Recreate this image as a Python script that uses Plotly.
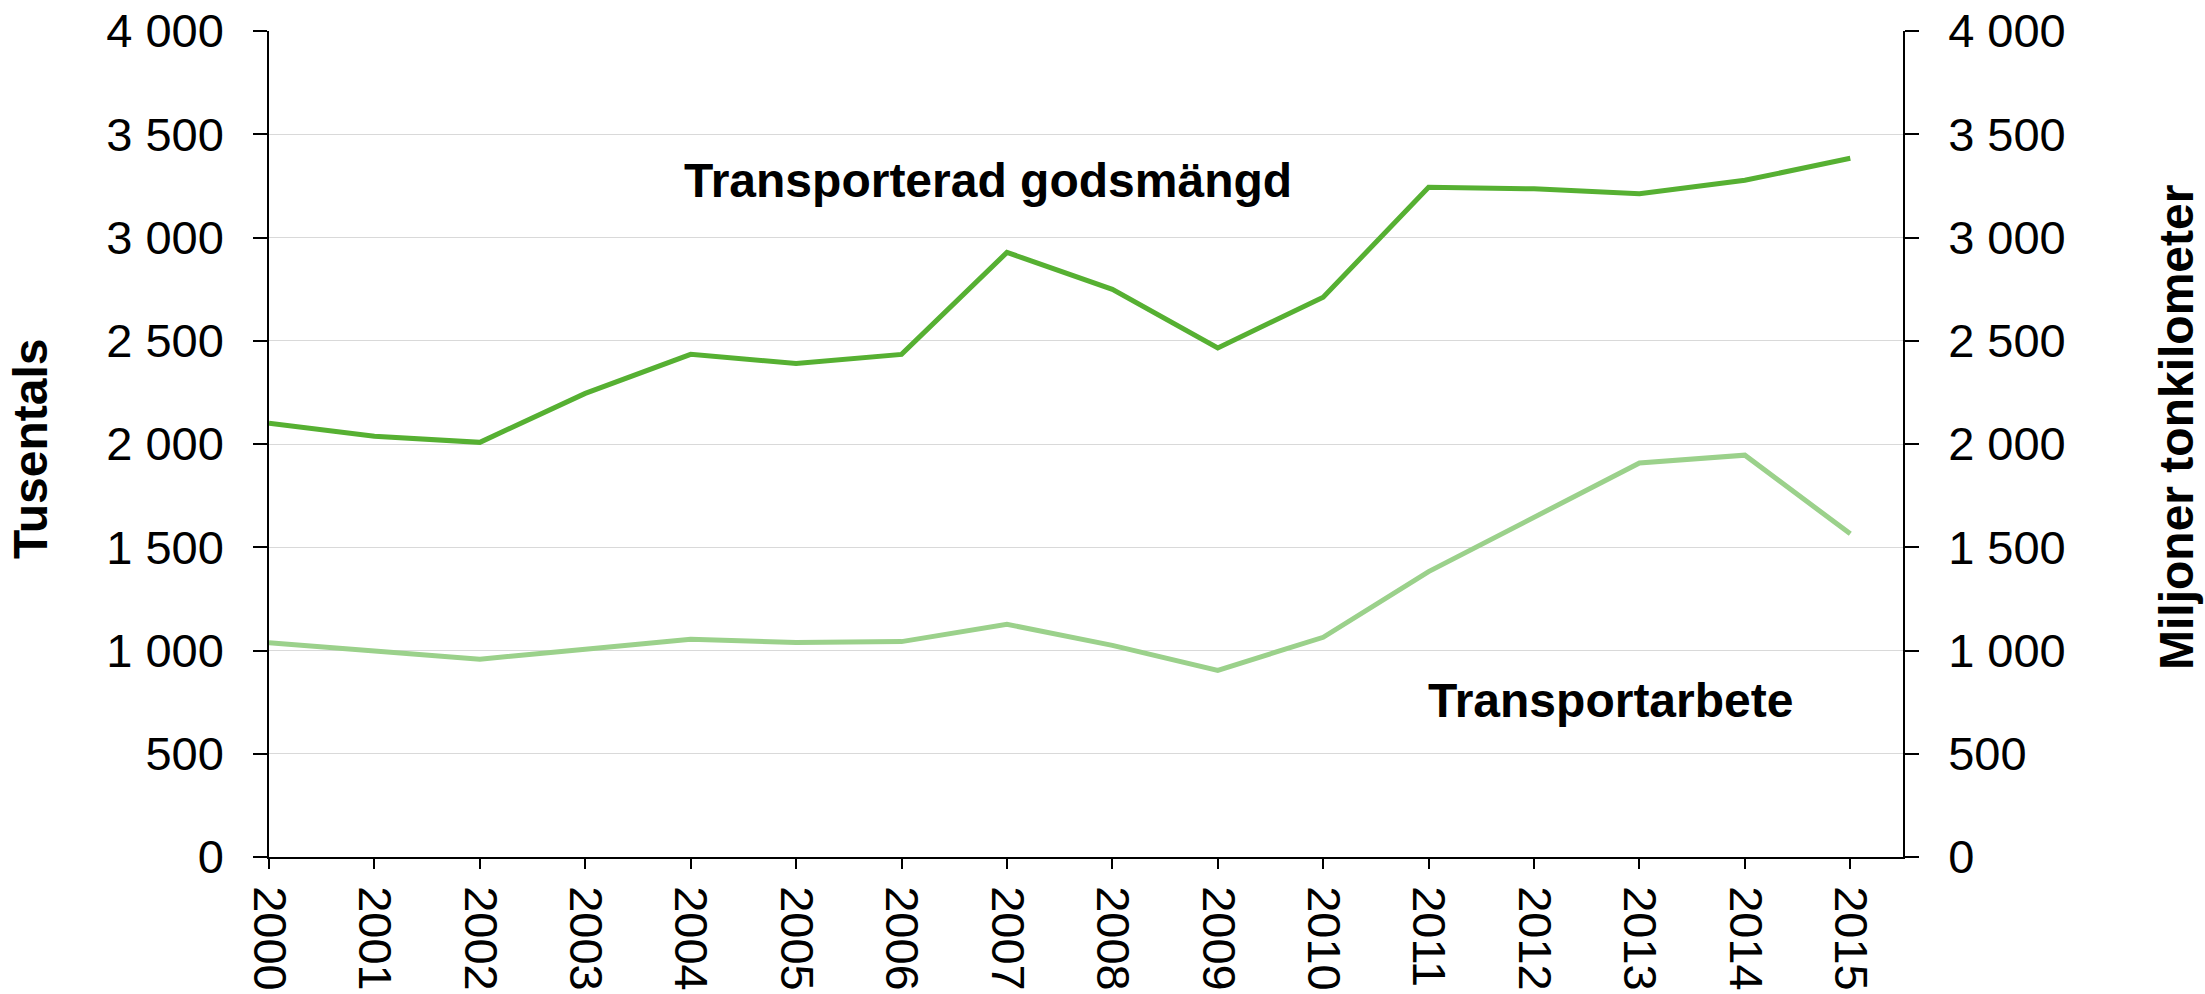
import plotly.graph_objects as go

years = list(range(2000, 2016))
godsmangd = [2100, 2038, 2008, 2245, 2434, 2390, 2434, 2928, 2749, 2465, 2711, 3243, 3236, 3212, 3277, 3384]
transportarbete = [1037, 997, 958, 1006, 1054, 1039, 1043, 1127, 1025, 904, 1064, 1382, 1645, 1908, 1946, 1565]
y_tickvals = [0, 500, 1000, 1500, 2000, 2500, 3000, 3500, 4000]
y_ticktext = ["0", "500", "1 000", "1 500", "2 000", "2 500", "3 000", "3 500", "4 000"]
x_ticktext = [str(y) for y in years]

DARK = "#56B032"
LIGHT = "#9BD18B"
FONT = "Liberation Sans, Arial, sans-serif"

fig = go.Figure()
fig.add_trace(go.Scatter(x=years, y=godsmangd, mode="lines",
                         line=dict(color=DARK, width=5), name="Transporterad godsmängd",
                         yaxis="y"))
fig.add_trace(go.Scatter(x=years, y=transportarbete, mode="lines",
                         line=dict(color=LIGHT, width=5), name="Transportarbete",
                         yaxis="y2"))

W, H = 2205, 994
L, T = 269, 31
R = W - 1903
B = H - 857

common_y = dict(range=[0, 4000], tickvals=y_tickvals, ticktext=y_ticktext, automargin=False,
                ticks="outside", ticklen=14, tickwidth=1.5, tickcolor="black",
                showline=True, linecolor="black", linewidth=1.5, zeroline=False,
                tickfont=dict(size=47), ticklabelstandoff=20, ticklabeloverflow="allow")

fig.update_layout(
    width=W, height=H,
    margin=dict(l=L, r=R, t=T, b=B, pad=0, autoexpand=False),
    paper_bgcolor="white", plot_bgcolor="white",
    showlegend=False,
    font=dict(family=FONT, size=47, color="black"),
    xaxis=dict(range=[2000, 2015.5], tickvals=years, ticktext=x_ticktext, automargin=False,
               tickangle=90, ticks="outside", ticklen=10, tickwidth=1.5, tickcolor="black",
               showline=True, linecolor="black", linewidth=1.5, showgrid=False,
               zeroline=False, tickfont=dict(size=47), ticklabelstandoff=8,
               ticklabeloverflow="allow"),
    yaxis=dict(**common_y, showgrid=True, gridcolor="#D9D9D9", gridwidth=1.2),
    yaxis2=dict(**common_y, overlaying="y", side="right", anchor="x", showgrid=False),
)

fig.add_annotation(x=2006.82, y=3274, xref="x", yref="y", text="<b>Transporterad godsmängd</b>",
                   showarrow=False, font=dict(size=48, family=FONT), xanchor="center", yanchor="middle")
fig.add_annotation(x=2012.73, y=759, xref="x", yref="y", text="<b>Transportarbete</b>",
                   showarrow=False, font=dict(size=48, family=FONT), xanchor="center", yanchor="middle")

pw = W - L - R
ph = H - T - B
# axis titles (pixel centres converted to paper fractions)
fig.add_annotation(x=(31 - L) / pw, y=(857 - 449) / ph, xref="paper", yref="paper",
                   text="<b>Tusentals</b>",
                   textangle=-90, showarrow=False, font=dict(size=48, family=FONT),
                   xanchor="center", yanchor="middle")
fig.add_annotation(x=(2176 - L) / pw, y=(857 - 428) / ph, xref="paper", yref="paper",
                   text="<b>Miljoner tonkilometer</b>",
                   textangle=-90, showarrow=False, font=dict(size=48, family=FONT),
                   xanchor="center", yanchor="middle")

fig.write_html("out.html",
               config={"displayModeBar": False},
               post_script="document.body.style.margin='0';document.body.style.overflow='hidden';")
